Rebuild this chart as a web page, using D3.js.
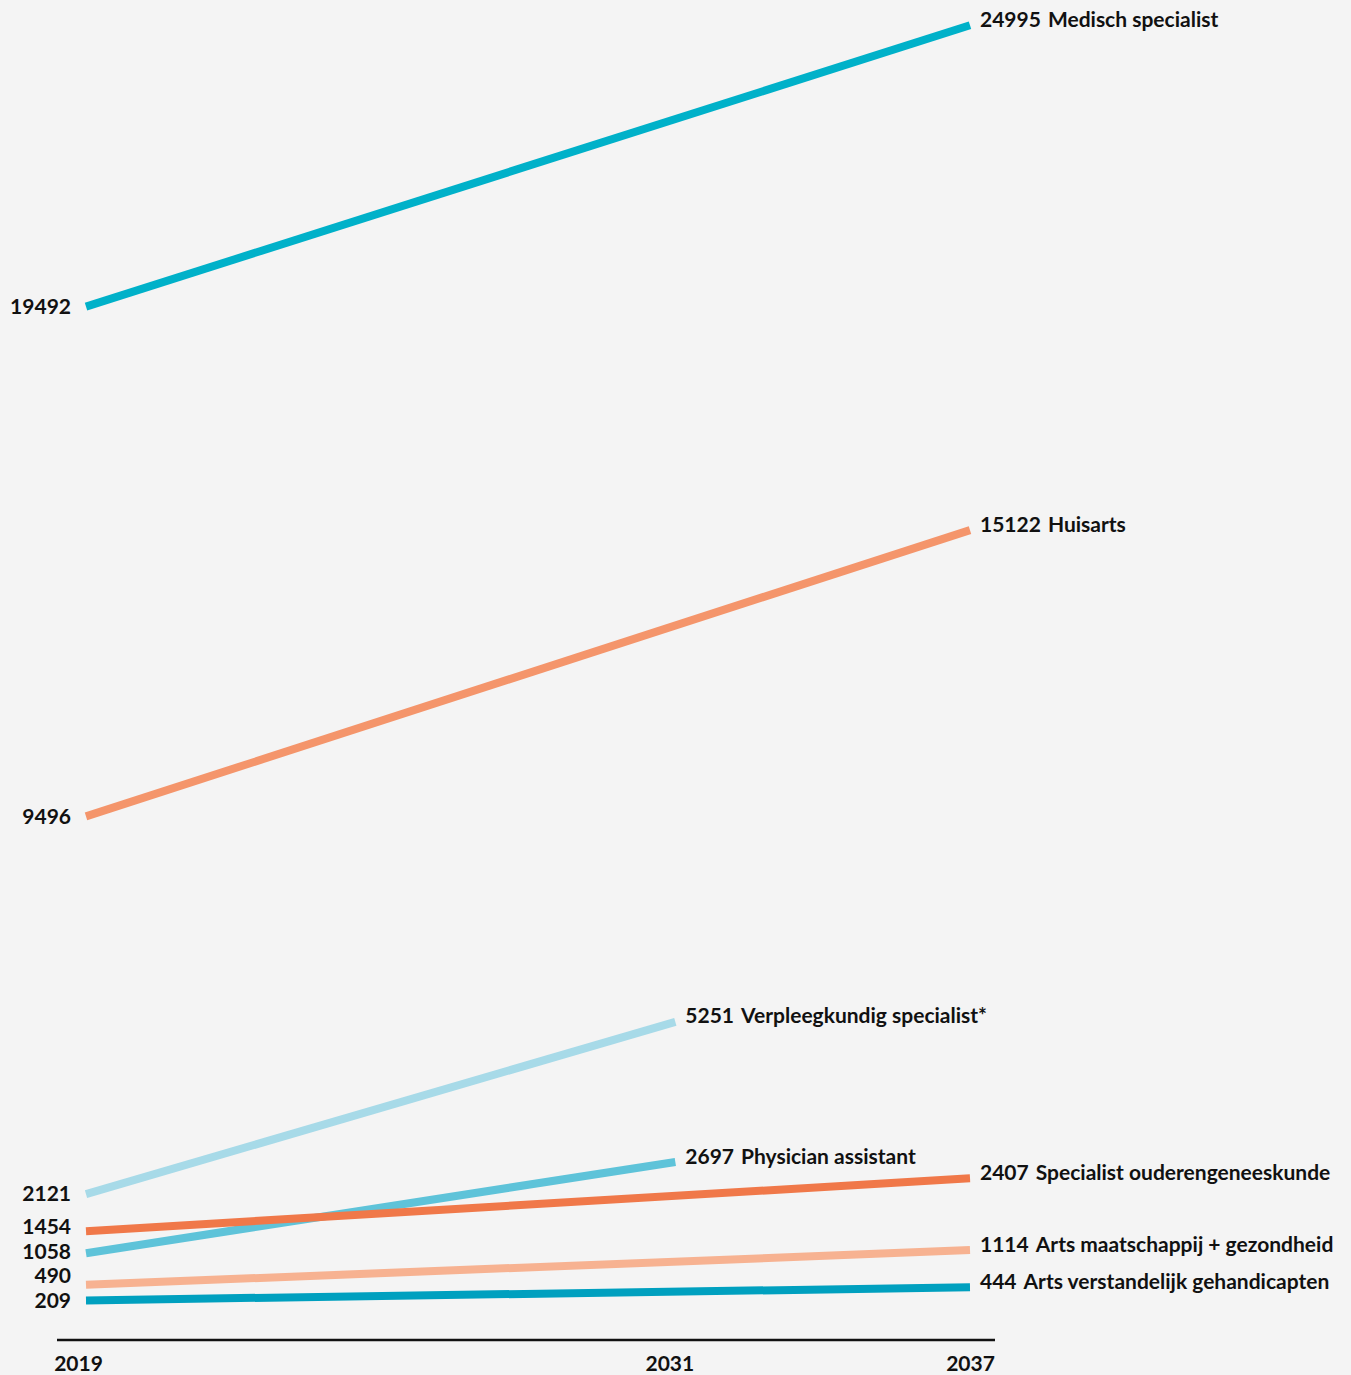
<!DOCTYPE html>
<html>
<head>
<meta charset="utf-8">
<script src="https://cdn.jsdelivr.net/npm/d3@7"></script>
<style>
  html, body { margin: 0; padding: 0; background: #f4f4f4; }
  svg { display: block; }
  .num, .name { font-family: Lato, "Liberation Sans", sans-serif; font-weight: bold; font-size: 21px; fill: #111; }
</style>
</head>
<body>
<svg id="chart" width="1351" height="1375"></svg>
<script>
const categories = ["Medisch specialist", "Huisarts", "Verpleegkundig specialist*", "Physician assistant",
  "Specialist ouderengeneeskunde", "Arts maatschappij + gezondheid", "Arts verstandelijk gehandicapten"];
const startYear = 2019;
const startValues = [19492, 9496, 2121, 1058, 1454, 490, 209];
const endYears = [2037, 2037, 2031, 2031, 2037, 2037, 2037];
const endValues = [24995, 15122, 5251, 2697, 2407, 1114, 444];
const colors = ["#00b1c9", "#f4956b", "#a7dae8", "#5ec3d9", "#f07849", "#f7b291", "#00a0bf"];
const yearTicks = [2019, 2031, 2037];

const svg = d3.select("#chart");
svg.append("rect").attr("width", 1351).attr("height", 1375).attr("fill", "#f4f4f4");

const x = d3.scaleLinear().domain([2019, 2037]).range([86, 970]);
const y = d3.scaleLinear().domain([0, 5000, 10000, 25000]).range([1312, 1034, 792, 25]);

const series = categories.map((c, i) => ({
  name: c, color: colors[i],
  pts: [[startYear, startValues[i]], [endYears[i], endValues[i]]]
}));

const line = d3.line().x(d => x(d[0])).y(d => y(d[1]));

svg.append("g").selectAll("path").data(series).join("path")
  .attr("d", d => line(d.pts))
  .attr("fill", "none")
  .attr("stroke", d => d.color)
  .attr("stroke-width", 8)
  .attr("stroke-linecap", "butt");

// left labels with simple collision avoidance
const left = series.map(s => ({ v: s.pts[0][1], y: y(s.pts[0][1]) })).sort((a, b) => b.y - a.y);
for (let i = 1; i < left.length; i++) {
  if (left[i].y > left[i - 1].y - 24.5) left[i].y = left[i - 1].y - 24.5;
}
svg.append("g").selectAll("text").data(left).join("text")
  .attr("class", "num")
  .attr("x", 71)
  .attr("y", d => d.y)
  .attr("dy", "0.35em")
  .attr("text-anchor", "end")
  .text(d => d.v);

// right labels
const right = svg.append("g").selectAll("text").data(series).join("text")
  .attr("x", d => x(d.pts[1][0]) + 10)
  .attr("y", d => y(d.pts[1][1]) - 4)
  .attr("dy", "0.35em");
right.append("tspan").attr("class", "num").text(d => d.pts[1][1]);
right.append("tspan").attr("class", "name").attr("dx", 7).text(d => d.name);

// axis
svg.append("line")
  .attr("x1", 57).attr("x2", 995)
  .attr("y1", 1340).attr("y2", 1340)
  .attr("stroke", "#111").attr("stroke-width", 2.5);

const ax = svg.append("g").attr("transform", "translate(0,1340)")
  .call(d3.axisBottom(x).tickValues(yearTicks).tickSize(0).tickPadding(16).tickFormat(d3.format("d")));
ax.select(".domain").remove();
ax.selectAll("text").attr("class", "num").attr("font-family", null).attr("font-size", null).attr("fill", null)
  .attr("dx", (d, i) => i === 0 ? -8 : (i === 1 ? -6 : 0));
</script>
</body>
</html>
